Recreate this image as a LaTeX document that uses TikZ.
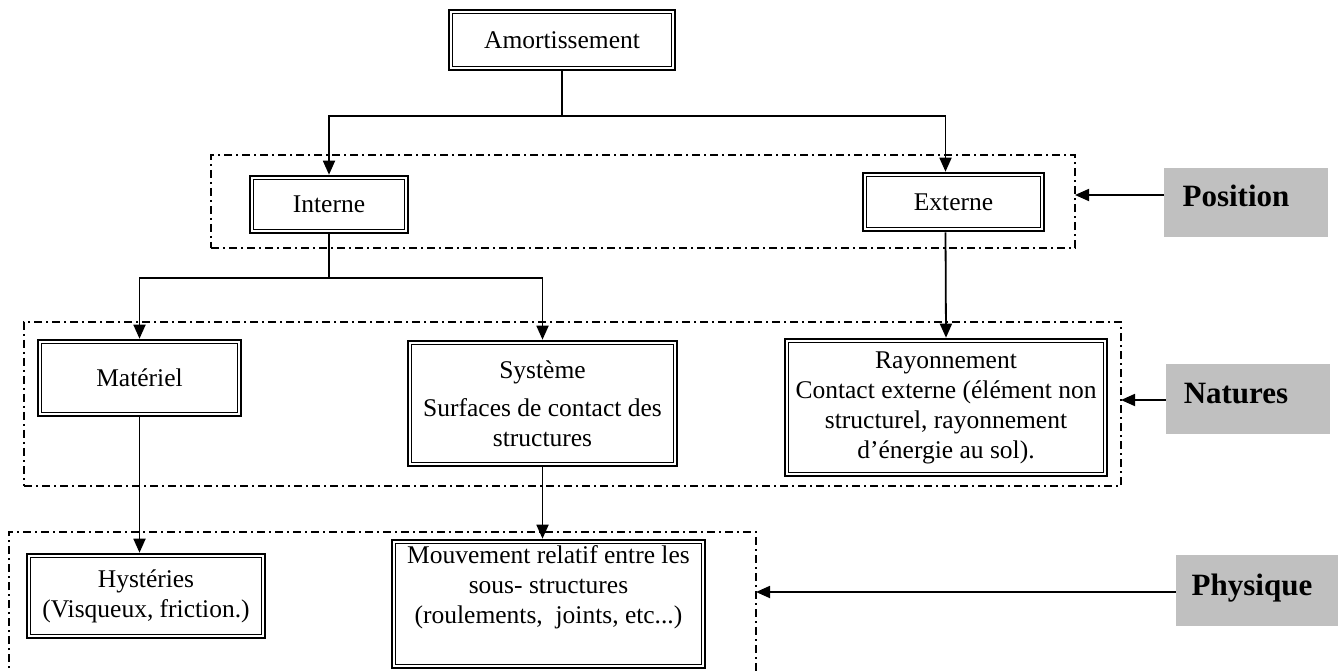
\documentclass[tikz,border=0pt]{standalone}
\usepackage{fontspec}
\setmainfont{Liberation Serif}
\usetikzlibrary{arrows.meta,calc}
\definecolor{tagfill}{RGB}{192,192,192}
\begin{document}
\begin{tikzpicture}[x=1pt,y=-1pt,
  every node/.style={font=\fontsize{25.5}{30}\selectfont, inner sep=0pt, align=center},
  dbox/.style={draw, line width=2.6pt, fill=white},
  frame/.style={draw, line width=1.3pt, dash pattern=on 8pt off 4pt on 2pt off 4pt},
  tag/.style={fill=tagfill, draw=none},
  taglbl/.style={font=\fontsize{31}{36}\selectfont\bfseries, anchor=base},
  arr/.style={line width=1.8pt, -{Triangle[length=14pt,width=12pt]}},
  link/.style={line width=1.6pt}
]
\useasboundingbox (0,0) rectangle (1338,671);

% grouping frames
\node[frame, minimum width=864, minimum height=93] (posfr) at (643,201.5) {};
\node[frame, minimum width=1097, minimum height=164] (natfr) at (572.5,404) {};
\draw[frame] (9,680) -- (9,532) -- (756,532) -- (756,680);

% boxes
\node[dbox, minimum width=226, minimum height=60] (amo) at (562,40) {Amortissement};
\node[dbox, minimum width=158, minimum height=57] (int) at (329,204.5) {Interne};
\node[dbox, minimum width=181, minimum height=58] (ext) at (953.5,202) {Externe};
\node[dbox, minimum width=203, minimum height=76] (mat) at (139.5,378) {Matériel};
\node[dbox, minimum width=269, minimum height=125] (sys) at (542.5,403.5)
  {Système\\[8pt] Surfaces de contact des\\ structures};
\node[dbox, minimum width=322, minimum height=137] (ray) at (946,407.5)
  {Rayonnement\\ Contact externe (élément non\\ structurel, rayonnement\\ d’énergie au sol).};
\node[dbox, minimum width=238, minimum height=84] (hys) at (146,596)
  {Hystéries\\ (Visqueux, friction.)};
\node[dbox, minimum width=313, minimum height=128] (mouv) at (548.5,604)
  {Mouvement relatif entre les\\ sous- structures\\ (roulements,\ \ joints, etc...)\\ \strut};

% inner line of each double border
\foreach \n in {amo,int,ext,mat,sys,ray,hys,mouv}
  \draw[line width=1.4pt] ([shift={(5,5)}]\n.north west) rectangle ([shift={(-5,-5)}]\n.south east);

% tree connectors
\coordinate (j1) at (562,116);
\draw[link] (amo.south) -- (j1);
\draw[arr] (j1) -| (int.north);
\draw[arr] (j1) -| ([xshift=-8pt]ext.north);

\coordinate (j2) at (329,278);
\draw[link] (int.south) -- (j2);
\draw[arr] (j2) -| (mat.north);
\draw[arr] (j2) -| (sys.north);

\draw[arr] ([xshift=-8pt]ext.south) -- (ray.north);
\draw[arr] (mat.south) -- (mat.south |- hys.north);
\draw[arr] (sys.south) -- (sys.south |- mouv.north);

% category tags
\node[tag, minimum width=164, minimum height=69] (postag) at (1246,202.5) {};
\node[taglbl] (poslbl) at (1236,207) {Position};
\node[tag, minimum width=164, minimum height=70] (nattag) at (1248,399) {};
\node[taglbl] (natlbl) at (1236,403) {Natures};
\node[tag, minimum width=162, minimum height=71] (phytag) at (1257,590.5) {};
\node[taglbl] (phylbl) at (1252,595) {Physique};

\coordinate (posin) at (1075,195);
\coordinate (natin) at (1121,400);
\coordinate (phyin) at (756,592);
\draw[arr] (postag.west |- posin) -- (posin);
\draw[arr] (nattag.west |- natin) -- (natin);
\draw[arr] (phytag.west |- phyin) -- (phyin);
\end{tikzpicture}
\end{document}
